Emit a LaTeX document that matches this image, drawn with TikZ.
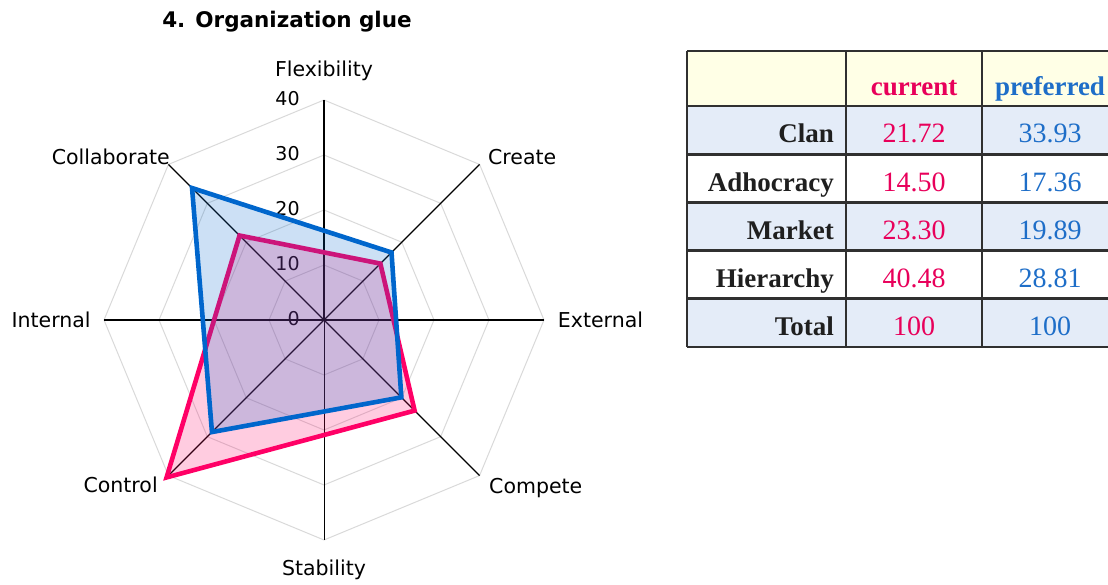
\documentclass[tikz,border=0pt]{standalone}
\usepackage{fontspec}
\setmainfont{Liberation Serif}
\newfontfamily\chartfont{DejaVu Sans}

\definecolor{curline}{RGB}{255,0,102}
\definecolor{prefline}{RGB}{0,102,204}
\definecolor{curtext}{RGB}{232,0,90}
\definecolor{preftext}{RGB}{30,110,200}
\definecolor{gridgray}{RGB}{217,217,217}
\definecolor{headfill}{RGB}{255,255,230}
\definecolor{rowfill}{RGB}{228,236,248}
\definecolor{rulegray}{RGB}{48,48,48}

\begin{document}
\begin{tikzpicture}[x=1pt,y=1pt,
  lab/.style={font=\chartfont\fontsize{20.5}{24}\selectfont,inner sep=0pt},
  tick/.style={font=\chartfont\fontsize{19}{22}\selectfont,inner sep=0pt,anchor=east},
  hd/.style={font=\fontsize{27}{30}\selectfont\bfseries,inner sep=0pt,anchor=base},
  rowlab/.style={font=\fontsize{27}{30}\selectfont\bfseries,inner sep=0pt,anchor=base east,text=black!88},
  num/.style={font=\fontsize{28}{30}\selectfont,inner sep=0pt,anchor=base},
  rule/.style={draw=rulegray,line width=2.8pt}]

  \useasboundingbox (0,0) rectangle (1108,584);

  \node[font=\chartfont\fontsize{21.5}{24}\selectfont\bfseries,inner sep=0pt,anchor=base]
    (title) at (287,556) {4. Organization glue};

  % radar, 10 units = 55pt
  \begin{scope}[shift={(324,264)},x=5.5pt,y=5.5pt]
    \coordinate (O) at (0,0);
    \foreach \r in {10,20,30,40}
      \draw[gridgray,line width=1pt] (90:\r) -- (45:\r) -- (0:\r) -- (-45:\r)
        -- (-90:\r) -- (-135:\r) -- (180:\r) -- (135:\r) -- cycle;

    \coordinate (flex) at (90:40);
    \coordinate (create) at (45:40);
    \coordinate (ext) at (0:40);
    \coordinate (comp) at (-45:40);
    \coordinate (stab) at (-90:40);
    \coordinate (ctrl) at (-135:40);
    \coordinate (int) at (180:40);
    \coordinate (coll) at (135:40);

    \draw[line width=2.4pt] (O) -- (flex);
    \draw[line width=1pt] (O) -- (stab);
    \foreach \n in {create,ext,comp,ctrl,int,coll}
      \draw[line width=1.4pt] (O) -- (\n);

    \foreach \v in {0,10,20,30,40}
      \node[tick] (t\v) at (-4.4,\v+0.3) {\v};

    % current
    \filldraw[draw=curline,fill=curline,fill opacity=.2,line width=4.6pt]
      (135:21.72) -- (45:14.50) -- (-45:23.30) -- (-135:40.48) -- cycle;
    % preferred
    \filldraw[draw=prefline,fill=prefline,fill opacity=.2,line width=4.6pt]
      (135:33.93) -- (45:17.36) -- (-45:19.89) -- (-135:28.81) -- cycle;

    \node[lab,anchor=base] (flexlab) at (0,44.2) {Flexibility};
    \node[lab,anchor=base west] (createlab) at (29.8,28.2) {Create};
    \node[lab,anchor=base west] (extlab) at (42.5,-1.3) {External};
    \node[lab,anchor=base west] (complab) at (30,-31.6) {Compete};
    \node[lab,anchor=base] (stablab) at (0,-46.5) {Stability};
    \node[lab,anchor=base east] (ctrllab) at (-30.2,-31.3) {Control};
    \node[lab,anchor=base east] (intlab) at (-42.4,-1.3) {Internal};
    \node[lab,anchor=base east] (colllab) at (-28,28.2) {Collaborate};
  \end{scope}

  % table
  \begin{scope}
    \clip (0,0) rectangle (1108,584);
    \fill[headfill] (687,533) rectangle (1118,478);
    \foreach \i in {1,3,5}
      \fill[rowfill] (687,{478-(\i-1)*48.2}) rectangle (1118,{478-\i*48.2});
    \foreach \i in {0,...,5}
      \draw[rule] (687,{478-\i*48.2}) -- (1118,{478-\i*48.2});
    \draw[rule] (687,533) -- (1118,533);
    \foreach \x in {687,846,982,1118}
      \draw[rule] (\x,533) -- (\x,{478-5*48.2});

    \node[hd,text=curtext] (curhd) at (914,488) {current};
    \node[hd,text=preftext] (prefhd) at (1050,488) {preferred};
    \foreach \lab/\cur/\pref [count=\i] in
      {Clan/21.72/33.93,Adhocracy/14.50/17.36,Market/23.30/19.89,Hierarchy/40.48/28.81,Total/100/100}
    {
      \node[rowlab] (row\i) at (834,{441-(\i-1)*48.2}) {\lab};
      \node[num,text=curtext] (cur\i) at (914,{441-(\i-1)*48.2}) {\cur};
      \node[num,text=preftext] (pref\i) at (1050,{441-(\i-1)*48.2}) {\pref};
    }
  \end{scope}
\end{tikzpicture}
\end{document}
